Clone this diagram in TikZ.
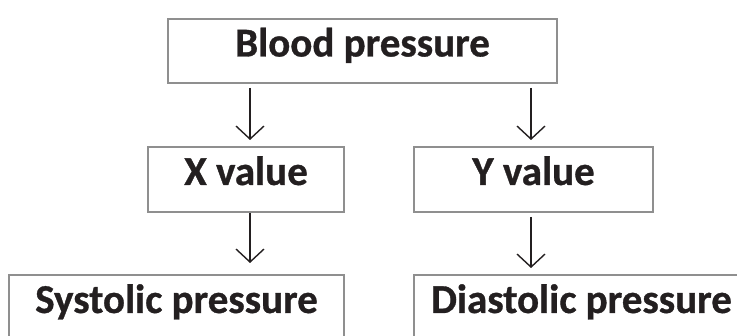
\documentclass[tikz,border=0pt]{standalone}
\usepackage{fontspec}
\setmainfont{Carlito}
\newfontfamily\boxfont{Carlito}[BoldFeatures={FakeBold=0.8}]
\usetikzlibrary{arrows.meta}
\definecolor{boxgray}{HTML}{8F8F8F}
\definecolor{ink}{HTML}{231F20}
\begin{document}
\begin{tikzpicture}[x=1pt,y=-1pt,
  box/.style={draw=boxgray, line width=2.4pt, fill=white, inner sep=0pt,
    text height=20pt, text depth=9pt, font=\boxfont\fontsize{41}{43}\selectfont\bfseries, text=ink},
  arr/.style={draw=ink, line width=1.4pt, -{Straight Barb[length=13pt,width=28pt,line width=1.4pt]}}]
\useasboundingbox (0,0) rectangle (737,336);
\begin{scope}
\clip (0,0) rectangle (737,336);
\node[box, minimum width=389pt, minimum height=64pt] (bp) at (362.5,51) {Blood pressure};
\node[box, minimum width=196pt, minimum height=65pt] (xv) at (246,179.5) {X value};
\node[box, minimum width=239pt, minimum height=65pt] (yv) at (533.5,179.5) {Y value};
\node[box, minimum width=335pt, minimum height=65pt] (sp) at (176.5,307.5) {Systolic pressure};
\node[box, minimum width=335pt, minimum height=65pt] (dp) at (581.5,307.5) {Diastolic pressure};
\coordinate (a1s) at (250,88);  \coordinate (a1e) at (250,140);
\coordinate (a2s) at (531,88);  \coordinate (a2e) at (531,140);
\coordinate (a3s) at (250,213); \coordinate (a3e) at (250,263);
\coordinate (a4s) at (531,217); \coordinate (a4e) at (531,268);
\draw[arr] (a1s) -- (a1e);
\draw[arr] (a2s) -- (a2e);
\draw[arr] (a3s) -- (a3e);
\draw[arr] (a4s) -- (a4e);
\end{scope}
\end{tikzpicture}
\end{document}
